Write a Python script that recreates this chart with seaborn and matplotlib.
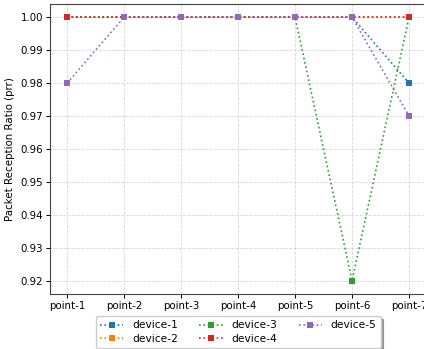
import matplotlib
matplotlib.use("Agg")
import matplotlib.pyplot as plt
import seaborn as sns
import pandas as pd

points = ["point-1", "point-2", "point-3", "point-4", "point-5", "point-6", "point-7"]
device_1 = [1.00, 1.00, 1.00, 1.00, 1.00, 1.00, 0.98]
device_2 = [1.00, 1.00, 1.00, 1.00, 1.00, 1.00, 1.00]
device_3 = [1.00, 1.00, 1.00, 1.00, 1.00, 0.92, 1.00]
device_4 = [1.00, 1.00, 1.00, 1.00, 1.00, 1.00, 1.00]
device_5 = [0.98, 1.00, 1.00, 1.00, 1.00, 1.00, 0.97]
devices = ["device-1", "device-2", "device-3", "device-4", "device-5"]
series = [device_1, device_2, device_3, device_4, device_5]

rows = []
for d, vals in zip(devices, series):
    for i, (p, v) in enumerate(zip(points, vals)):
        rows.append({"point": p, "idx": i, "device": d, "prr": v})
df = pd.DataFrame(rows)

plt.rcParams["font.family"] = ["DejaVu Sans"]
fs = 7.4
fig = plt.figure(figsize=(4.24, 3.49), dpi=100)
ax = fig.add_axes([0.118, 0.158, 0.887, 0.8305])
palette = sns.color_palette("tab10", 5)
for d, c in zip(devices, palette):
    sub = df[df["device"] == d]
    sns.lineplot(data=sub, x="idx", y="prr", ax=ax, color=c, linestyle=":",
                 marker="s", markersize=4.2, markeredgewidth=0, linewidth=1.2,
                 label=d)

ax.set_xticks(range(len(points)))
ax.set_xticklabels(points, fontsize=fs)
ax.set_yticks([0.92, 0.93, 0.94, 0.95, 0.96, 0.97, 0.98, 0.99, 1.00])
ax.set_yticklabels([f"{v:.2f}" for v in ax.get_yticks()], fontsize=fs)
ax.tick_params(length=3, width=0.7, pad=2)
ax.set_xlabel("")
ax.set_ylabel("Packet Reception Ratio (prr)", fontsize=fs, labelpad=4)
ax.grid(True, linestyle="--", linewidth=0.6, color="#cccccc", alpha=0.8)
for s in ax.spines.values():
    s.set_linewidth(0.8)
    s.set_color("#444444")
ax.legend(loc="upper center", bbox_to_anchor=(0.5, -0.058), ncol=3,
          fontsize=fs + 0.3, handlelength=2.2, shadow=True, fancybox=True,
          columnspacing=2.0, borderpad=0.4, labelspacing=0.3)
fig.savefig("out.png", dpi=100)
